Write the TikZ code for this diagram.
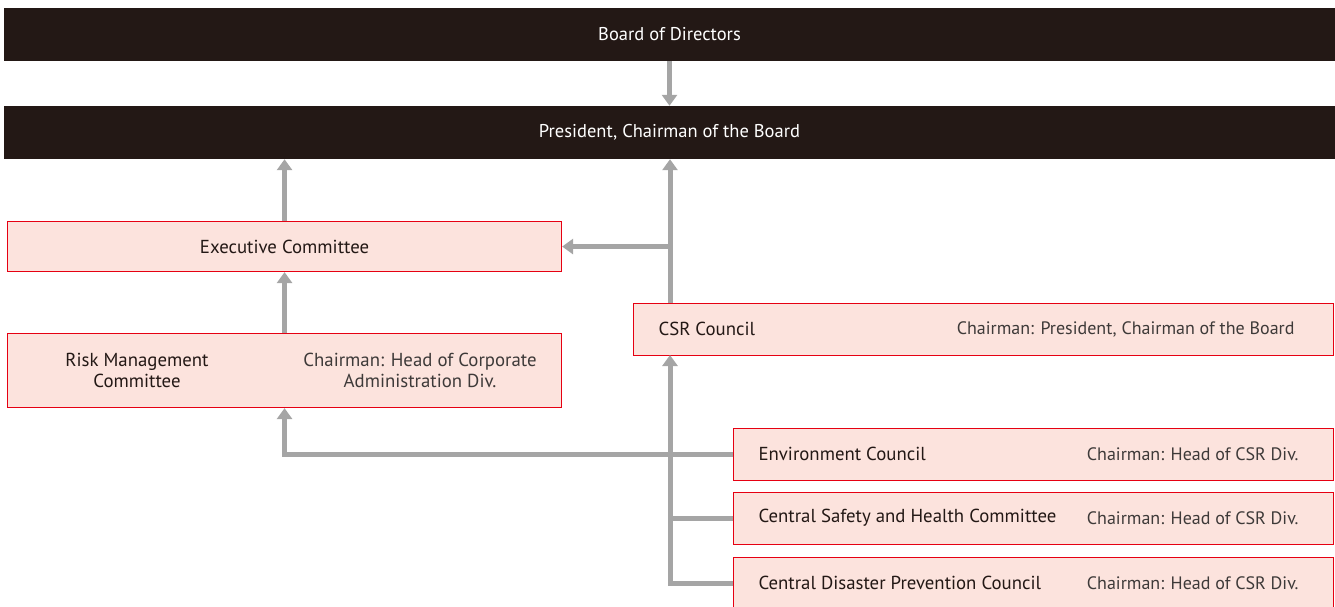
\documentclass[tikz,border=0pt]{standalone}
\usepackage{fontspec}
\setmainfont{PT Sans}
\usetikzlibrary{arrows.meta}
\definecolor{barblack}{HTML}{231815}
\definecolor{unitpink}{HTML}{FCE3DD}
\definecolor{unitred}{HTML}{E60012}
\definecolor{linkgray}{HTML}{A5A5A5}
\definecolor{chairtext}{HTML}{3E3A39}

\begin{document}
\begin{tikzpicture}[x=1pt, y=-1pt,
    bar/.style={fill=barblack, minimum width=1331pt, minimum height=53pt, inner sep=0pt, text=white, font=\fontsize{18.5}{21}\selectfont},
    unit/.style={fill=unitpink, draw=unitred, line width=1.1pt, inner sep=0pt, anchor=north west},
    link/.style={draw=linkgray, line width=5pt},
    arr/.style={link, -{Triangle[width=15pt, length=11pt]}},
    label/.style={text=barblack, font=\fontsize{18.8}{21}\selectfont},
    chair/.style={text=chairtext, font=\fontsize{18}{21}\selectfont, anchor=east}]
    \useasboundingbox (0,0) rectangle (1335,606);
    \clip (0,0) rectangle (1335,606);

    % Draw the two top bars
    \node[bar] (board) at (669.5,34.5) {Board of Directors};
    \node[bar] (pres) at (669.5,132.5) {President, Chairman of the Board};

    % Draw the committees
    \node[unit, minimum width=554pt, minimum height=50pt] (exec) at (7,221) {};
    \node[label] (execname) at (exec.center) {Executive Committee};
    \node[unit, minimum width=554pt, minimum height=74pt] (risk) at (7,333) {};
    \node[label, align=center] (riskname) at (137,370) {Risk Management\\Committee};
    \node[label, text=chairtext, align=center] (riskchair) at (420,370) {Chairman: Head of Corporate\\Administration Div.};
    \node[unit, minimum width=700pt, minimum height=52pt] (csr) at (633,303) {};
    \node[label, anchor=west] (csrname) at (655,329) {CSR Council};
    \node[chair] (csrchair) at (1298,329) {Chairman: President, Chairman of the Board};

    % Draw the councils below the CSR Council
    \foreach \n/\y/\t in {env/428/Environment Council, safe/492/Central Safety and Health Committee, dis/557/Central Disaster Prevention Council} {
        \node[unit, minimum width=600pt, minimum height=52pt] (\n) at (733,\y) {};
        \node[label, anchor=west] (\n name) at (755,\y+26) {\t};
        \node[chair] (\n chair) at (1302,\y+26) {Chairman: Head of CSR Div.};
    }

    % Connectors
    \coordinate (trunk) at (670,303);
    \coordinate (trunkb) at (670,355);
    \draw[arr] (board) -- (pres);
    \draw[arr] (exec.north) -- (exec.north |- pres.south);
    \draw[arr] (trunk) -- (trunk |- pres.south);
    \draw[arr] (trunk |- exec.east) -- (exec.east);
    \draw[arr] (risk.north) -- (exec.south);
    \draw[arr] (env.west) -| (risk.south);
    \draw[link] (safe.west) -- (safe.west -| trunkb);
    \draw[arr] (dis.west) -| (trunkb);
\end{tikzpicture}
\end{document}
